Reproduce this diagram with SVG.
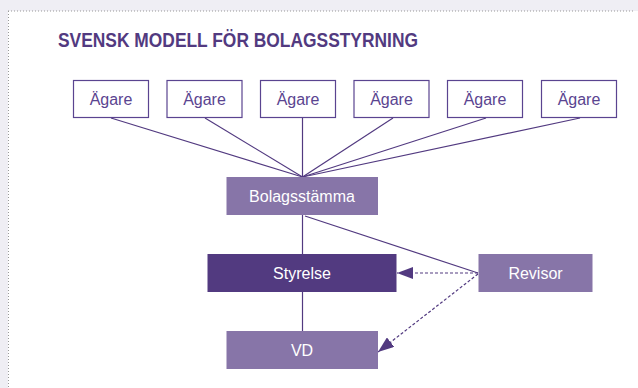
<svg xmlns="http://www.w3.org/2000/svg" width="638" height="388" viewBox="0 0 638 388">
  <defs>
    <style>
      .owner rect { fill: #ffffff; stroke: #5a4490; stroke-width: 1.2; }
      .owner text { fill: #5a4490; font-family: "Liberation Sans", Arial, sans-serif; font-size: 16px; text-anchor: middle; }
      .light rect { fill: #8775a8; }
      .dark rect { fill: #523a80; }
      .filled text { fill: #ffffff; font-family: "Liberation Sans", Arial, sans-serif; font-size: 16px; text-anchor: middle; }
      .conn line { stroke: #523a80; stroke-width: 1.2; fill: none; }
      .conn .dash { stroke-dasharray: 3 2; marker-end: url(#arrow); }
    </style>
    <marker id="arrow" viewBox="0 0 16 12" refX="16" refY="6" markerWidth="16" markerHeight="12" markerUnits="userSpaceOnUse" orient="auto">
      <path d="M0,0 L16,6 L0,12 Z" fill="#523a80"/>
    </marker>
  </defs>
  <rect x="0" y="0" width="638" height="388" fill="#efeef4"/>
  <rect x="8" y="11" width="630" height="377" fill="#ffffff"/>
  <line x1="8" y1="11" x2="634" y2="11" stroke="#999999" stroke-width="1" stroke-dasharray="1 2"/>
  <line x1="8.5" y1="11" x2="8.5" y2="388" stroke="#999999" stroke-width="1" stroke-dasharray="1 2"/>
  <text x="58" y="47" fill="#523a80" font-family="Liberation Sans, Arial, sans-serif" font-weight="bold" font-size="20.5" textLength="360" lengthAdjust="spacingAndGlyphs">SVENSK MODELL FÖR BOLAGSSTYRNING</text>

  <g id="connectors" class="conn">
    <line x1="111" y1="118" x2="302.5" y2="177"/>
    <line x1="205" y1="118" x2="302.5" y2="177"/>
    <line x1="302.5" y1="118" x2="302.5" y2="177"/>
    <line x1="393" y1="118" x2="302.5" y2="177"/>
    <line x1="486" y1="118" x2="302.5" y2="177"/>
    <line x1="580" y1="118" x2="302.5" y2="177"/>
    <line x1="302.5" y1="215" x2="302.5" y2="254"/>
    <line x1="305" y1="216" x2="478" y2="273"/>
    <line x1="302.5" y1="292" x2="302.5" y2="331"/>
    <line class="dash" x1="478" y1="273" x2="397" y2="273"/>
    <line class="dash" x1="478" y1="274" x2="378" y2="352"/>
  </g>

  <g id="agare1" class="owner"><rect x="73.5" y="80.5" width="75" height="37"/><text x="111" y="105">Ägare</text></g>
  <g id="agare2" class="owner"><rect x="167" y="80.5" width="75" height="37"/><text x="204.5" y="105">Ägare</text></g>
  <g id="agare3" class="owner"><rect x="260.5" y="80.5" width="75" height="37"/><text x="298" y="105">Ägare</text></g>
  <g id="agare4" class="owner"><rect x="354" y="80.5" width="75" height="37"/><text x="391.5" y="105">Ägare</text></g>
  <g id="agare5" class="owner"><rect x="447.5" y="80.5" width="75" height="37"/><text x="485" y="105">Ägare</text></g>
  <g id="agare6" class="owner"><rect x="541.5" y="80.5" width="75" height="37"/><text x="579" y="105">Ägare</text></g>

  <g id="bolagsstamma" class="filled light"><rect x="226.5" y="177" width="151.5" height="38"/><text x="302" y="202">Bolagsstämma</text></g>
  <g id="styrelse" class="filled dark"><rect x="207.5" y="254" width="189" height="38"/><text x="302" y="279">Styrelse</text></g>
  <g id="revisor" class="filled light"><rect x="478.5" y="254" width="114" height="38"/><text x="535.5" y="279">Revisor</text></g>
  <g id="vd" class="filled light"><rect x="226.5" y="331" width="151.5" height="38"/><text x="302" y="356">VD</text></g>
</svg>
